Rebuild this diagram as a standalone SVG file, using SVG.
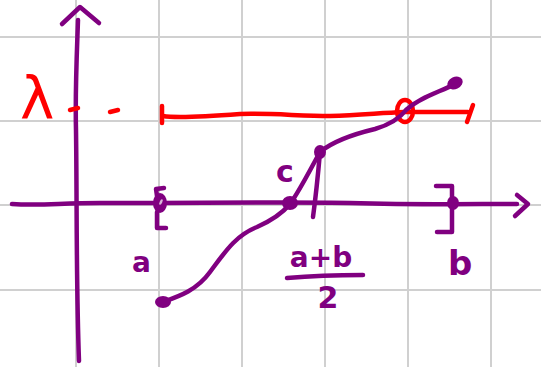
<svg xmlns="http://www.w3.org/2000/svg" width="541" height="367" viewBox="0 0 541 367">
<style>
.grid line{stroke:#d0d0d0;stroke-width:2}
.p{stroke:#800080;stroke-width:4.5;fill:none;stroke-linecap:round;stroke-linejoin:round}
.r{stroke:#ff0000;stroke-width:4.5;fill:none;stroke-linecap:round;stroke-linejoin:round}
.pd{fill:#800080}
.lab{font-family:"DejaVu Sans","Liberation Sans",sans-serif;fill:#800080;font-weight:bold}
.rl{font-family:"DejaVu Sans","Liberation Sans",sans-serif;fill:#ff0000}
</style>
<rect width="541" height="367" fill="#ffffff"/>
<g class="grid" id="grid">
<line x1="76" y1="0" x2="76" y2="367"/>
<line x1="159" y1="0" x2="159" y2="367"/>
<line x1="242" y1="0" x2="242" y2="367"/>
<line x1="325" y1="0" x2="325" y2="367"/>
<line x1="408" y1="0" x2="408" y2="367"/>
<line x1="491" y1="0" x2="491" y2="367"/>
<line x1="0" y1="37" x2="541" y2="37"/>
<line x1="0" y1="121" x2="541" y2="121"/>
<line x1="0" y1="205" x2="541" y2="205"/>
<line x1="0" y1="290" x2="541" y2="290"/>
</g>
<g id="axes">
<path class="p" d="M78 20 C77 50 75 90 76 130 C77 200 76 280 79 361"/>
<path class="p" d="M62 24 L80 7 L99 23"/>
<path class="p" d="M12 204 C40 206 60 203 100 203 C200 203 300 202 350 203 C420 205 470 204 517 204"/>
<path class="p" d="M517 195 L528 204 L515 216"/>
</g>
<g id="lambda-level">
<text class="rl" x="20" y="119" font-size="58">λ</text>
<path class="r" d="M70 110 L78 108"/>
<path class="r" d="M110 112 L118 110"/>
<path class="r" d="M162 106 L162 123"/>
<path class="r" d="M163 116 C175 118 200 117 240 114 C270 113 300 116 330 116 C360 115 380 113 404 112 C430 112 450 112 468 112"/>
<path class="r" d="M473 105 L467 122"/>
<ellipse class="r" cx="405" cy="111" rx="8" ry="11"/>
</g>
<g id="curve">
<path class="p" d="M163 302 C180 296 197 290 210 272 C225 252 235 236 257 227 C275 219 285 210 290 204"/>
<path class="p" d="M290 204 C300 190 310 170 320 152"/>
<path class="p" d="M320 152 C318 175 316 195 313 217"/>
<path class="p" d="M320 152 C332 142 350 135 375 129 C392 124 400 118 406 110 C420 97 440 92 455 84"/>
<ellipse class="pd" cx="163" cy="302" rx="8" ry="6"/>
<ellipse class="pd" cx="290" cy="203" rx="8" ry="7"/>
<ellipse class="pd" cx="320" cy="152" rx="6" ry="7"/>
<ellipse class="pd" cx="455" cy="83" rx="8" ry="6" transform="rotate(-25 455 83)"/>
</g>
<g id="point-a">
<path class="p" d="M164 188 L156 189 L157 196 M157 212 L157 228 L166 228"/>
<ellipse class="pd" cx="160" cy="203" rx="7" ry="10"/>
<ellipse cx="161" cy="202" rx="1.3" ry="3" fill="#d8b8d8" transform="rotate(25 161 202)"/>
<text class="lab" x="132" y="272" font-size="28">a</text>
</g>
<g id="point-b">
<ellipse class="pd" cx="453" cy="203" rx="6" ry="7"/>
<path class="p" d="M436 186 L452 186 L452 232 L437 232"/>
<text class="lab" x="448" y="275" font-size="34">b</text>
</g>
<g id="point-c">
<text class="lab" x="276" y="182" font-size="30">c</text>
</g>
<g id="midpoint">
<text class="lab" x="321" y="267" font-size="28" text-anchor="middle">a+b</text>
<path class="p" d="M287 278 C310 276 340 275 363 275"/>
<text class="lab" x="328" y="308" font-size="30" text-anchor="middle">2</text>
</g>
</svg>
